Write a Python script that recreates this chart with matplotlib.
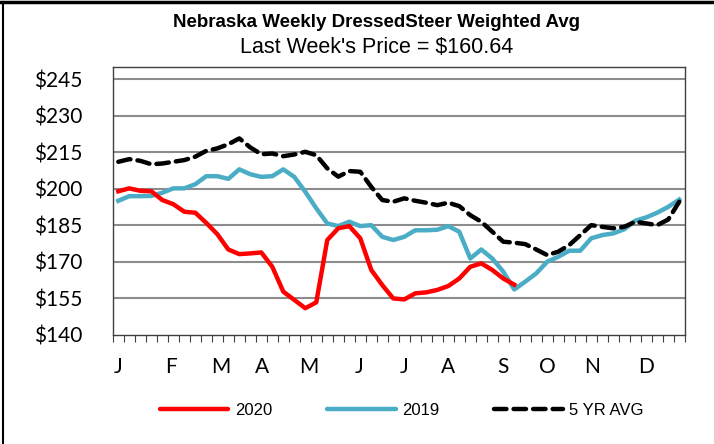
import numpy as np
import matplotlib
matplotlib.use("Agg")
from matplotlib import pyplot as plt
from matplotlib.lines import Line2D
import matplotlib.transforms as mtrans

# weekly values
y2020 = [199, 200.2, 199.2, 199, 195.4, 193.7, 190.6, 190.2, 186, 181.4,
         175.1, 173.2, 173.5, 173.9, 168, 157.8, 154.4, 151, 153.4, 179,
         183.8, 184.7, 179.7, 166.7, 160.5, 155, 154.6, 157.1, 157.5, 158.5,
         160.1, 163.2, 168, 169.4, 166.7, 163.2, 160.64]
y2019 = [195.1, 197, 197, 197.1, 198.4, 200.2, 200.2, 201.9, 205.2, 205.2,
         204.1, 208, 206, 204.9, 205.2, 208, 204.9, 198.8, 192, 185.8,
         184.7, 186.5, 184.7, 185.1, 180.3, 179, 180.3, 183, 183, 183.2,
         184.7, 182.4, 171.4, 175.1, 171.4, 166, 158.7, 161.9, 165.3, 170.1,
         172.1, 174.6, 174.6, 179.7, 181, 181.7, 183.4, 186.9, 188.3, 190.2,
         192.6, 195.6]
avg5 = [211.1, 212.2, 211.5, 210.1, 210.4, 211.1, 211.8, 213.2, 215.6, 216.6,
        218.3, 220.7, 217, 214.2, 214.5, 213.4, 214.1, 215.2, 213.8, 208.4,
        205, 207.3, 207, 200.8, 195.4, 194.7, 196.1, 195.1, 194.3, 193.3,
        194.3, 192.9, 189.2, 186.5, 182.4, 178.3, 177.9, 177.3, 175.1, 172.8,
        174.2, 176.9, 181, 185.1, 184.4, 183.8, 184.4, 186.5, 185.8, 185.1,
        187.4, 194.7]
months = ["J", "F", "M", "A", "M", "J", "J", "A", "S", "O", "N", "D"]
month_pos = [0, 4.8, 9.3, 13.1, 17.3, 21.9, 26, 30, 35, 39, 43.1, 48]
yticks = [140, 155, 170, 185, 200, 215, 230, 245]

fig = plt.figure(figsize=(7.14, 4.44), dpi=100)
ax = fig.add_axes([0.158, 0.2455, 0.801, 0.6035])

for v in yticks[1:]:
    ax.axhline(v, color="#8c8c8c", lw=1.5, zorder=1)

ax.plot(range(len(y2020)), y2020, color="#ff0000", lw=3.2, zorder=3,
        solid_joinstyle="round")
ax.plot(range(len(y2019)), y2019, color="#4bacc6", lw=3.2, zorder=2,
        solid_joinstyle="round")
ax.plot(range(len(avg5)), avg5, color="black", lw=3.2, zorder=4,
        dashes=(2.8, 1.6), dash_capstyle="round")

ax.set_xlim(-0.5, 51.5)
ax.set_ylim(140, 250)
ax.set_xticks(np.arange(-0.5, 52, 1))
ax.set_xticklabels([])
ax.tick_params(axis="x", direction="out", length=5, width=0.8, color="#404040")
ax.set_yticks(yticks)
ax.set_yticklabels(["$%d" % v for v in yticks], fontsize=15, family="Lato")
ax.tick_params(axis="y", length=0, pad=22)
for s in ax.spines.values():
    s.set_color("#404040")
    s.set_linewidth(1.0)

tr = mtrans.blended_transform_factory(ax.transData, ax.transAxes)
for m, p in zip(months, month_pos):
    ax.text(p, -0.12, m, transform=tr, ha="center", va="center",
            fontsize=15, family="Lato")

fig.text(0.527, 0.950, "Nebraska Weekly DressedSteer Weighted Avg",
         ha="center", va="center", fontsize=13.5, fontweight="bold",
         family="Liberation Sans")
fig.text(0.527, 0.893, "Last Week's Price = $160.64", ha="center",
         va="center", fontsize=15.5, family="Liberation Sans")

handles = [Line2D([], [], color="#ff0000", lw=3.2, solid_capstyle="round"),
           Line2D([], [], color="#4bacc6", lw=3.2, solid_capstyle="round"),
           Line2D([], [], color="black", lw=3.2, dashes=(2.8, 1.6),
                  dash_capstyle="round")]
fig.legend(handles, ["2020", "2019", "5 YR AVG"], loc="center",
           bbox_to_anchor=(0.563, 0.075), ncol=3, frameon=False,
           handlelength=4.1, handletextpad=0.4, columnspacing=3.3,
           prop={"family": "Liberation Sans", "size": 12})

# outer frame pieces
fig.add_artist(Line2D([0, 0.998], [0.995, 0.995], color="black", lw=2.5,
                      transform=fig.transFigure))
fig.add_artist(Line2D([0.004, 0.004], [0.0, 0.995], color="black", lw=1.5,
                      transform=fig.transFigure))

fig.savefig("out.png", dpi=100)
